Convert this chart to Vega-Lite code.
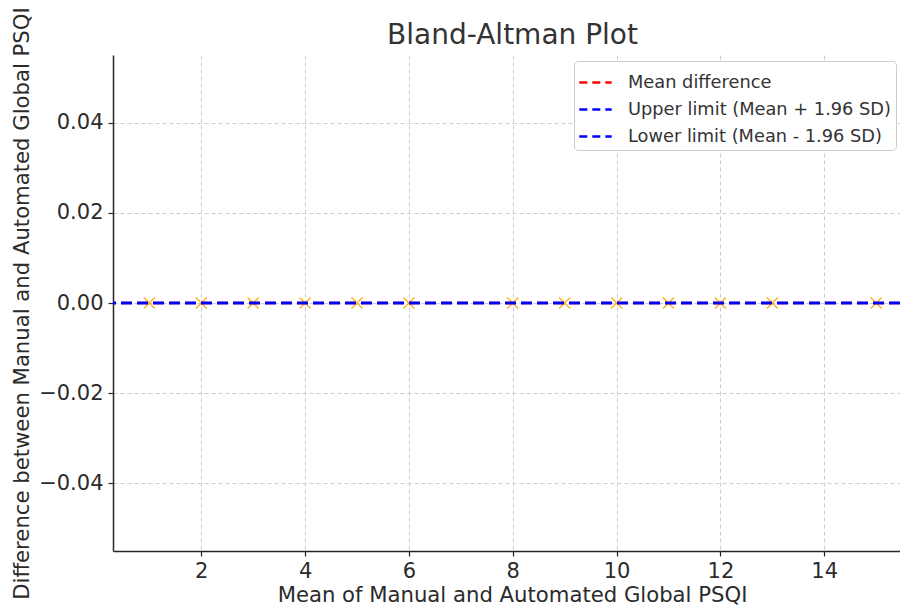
{
  "$schema": "https://vega.github.io/schema/vega-lite/v6.json",
  "width": 787,
  "height": 496,
  "autosize": {"type": "none"},
  "padding": {"left": 113, "top": 55, "right": 0, "bottom": 56},
  "background": "white",
  "config": {
    "font": "DejaVu Sans",
    "view": {"stroke": null},
    "axis": {
      "domainColor": "#262626",
      "domainWidth": 1.5,
      "tickColor": "#262626",
      "tickSize": 5,
      "tickWidth": 1.2,
      "labelColor": "#2b2b2b",
      "labelFontSize": 21,
      "titleColor": "#2b2b2b",
      "titleFontSize": 21.2,
      "titleFontWeight": "normal",
      "gridColor": "#cccccc",
      "gridDash": [4, 3],
      "gridWidth": 1
    }
  },
  "title": {
    "text": "Bland-Altman Plot",
    "fontSize": 28,
    "fontWeight": "normal",
    "color": "#333333",
    "font": "DejaVu Sans",
    "offset": 8,
    "dx": 6,
    "dy": 51
  },
  "datasets": {
    "points": [
      {"mean": 1, "diff": 0},
      {"mean": 2, "diff": 0},
      {"mean": 3, "diff": 0},
      {"mean": 4, "diff": 0},
      {"mean": 5, "diff": 0},
      {"mean": 6, "diff": 0},
      {"mean": 8, "diff": 0},
      {"mean": 9, "diff": 0},
      {"mean": 10, "diff": 0},
      {"mean": 11, "diff": 0},
      {"mean": 12, "diff": 0},
      {"mean": 13, "diff": 0},
      {"mean": 15, "diff": 0}
    ],
    "lines": [
      {"label": "Mean difference", "value": 0},
      {"label": "Upper limit (Mean + 1.96 SD)", "value": 0},
      {"label": "Lower limit (Mean - 1.96 SD)", "value": 0}
    ]
  },
  "layer": [
    {
      "data": {"name": "points"},
      "mark": {
        "type": "point",
        "shape": "M-1,-1L1,1M-1,1L1,-1",
        "filled": false,
        "stroke": "#FFA500",
        "strokeWidth": 1.5,
        "size": 120,
        "opacity": 0.85,
        "clip": true
      },
      "encoding": {
        "x": {
          "field": "mean",
          "type": "quantitative",
          "scale": {"domain": [0.3, 15.46], "nice": false, "zero": false},
          "axis": {
            "values": [2, 4, 6, 8, 10, 12, 14],
            "title": "Mean of Manual and Automated Global PSQI",
            "titleX": 399,
            "titlePadding": 3,
            "labelPadding": 4
          }
        },
        "y": {
          "field": "diff",
          "type": "quantitative",
          "scale": {"domain": [-0.055, 0.055], "nice": false, "zero": false},
          "axis": {
            "values": [-0.04, -0.02, 0, 0.02, 0.04],
            "labelExpr": "replace(format(datum.value, '.2f'), '-', '−')",
            "title": "Difference between Manual and Automated Global PSQI",
            "titlePadding": 6,
            "labelPadding": 5
          }
        }
      }
    },
    {
      "data": {"name": "lines"},
      "mark": {"type": "rule", "strokeDash": [11, 5], "strokeWidth": 2.5},
      "encoding": {
        "y": {"field": "value", "type": "quantitative"},
        "color": {
          "field": "label",
          "type": "nominal",
          "scale": {
            "domain": ["Mean difference", "Upper limit (Mean + 1.96 SD)", "Lower limit (Mean - 1.96 SD)"],
            "range": ["#ff0000", "#0000ff", "#0000ff"]
          },
          "sort": null,
          "legend": {
            "title": null,
            "orient": "none",
            "legendX": 461,
            "legendY": 6,
            "symbolType": "stroke",
            "symbolDash": [8, 5],
            "symbolStrokeWidth": 2.5,
            "symbolSize": 1050,
            "labelFontSize": 17.8,
            "labelColor": "#333333",
            "labelLimit": 400,
            "labelOffset": 15,
            "rowPadding": 0,
            "padding": 4,
            "fillColor": "white",
            "strokeColor": "#cccccc",
            "cornerRadius": 4
          }
        }
      }
    }
  ]
}
